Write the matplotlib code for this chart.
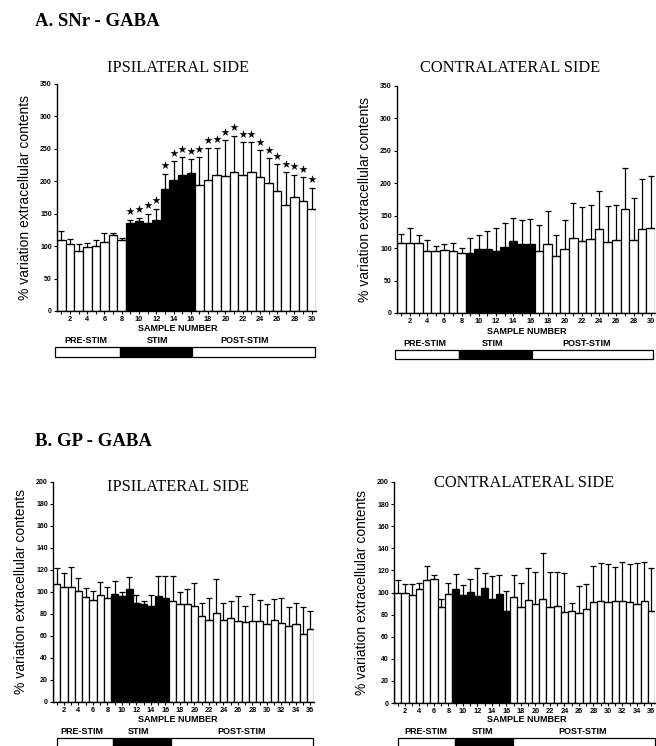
import numpy as np
import matplotlib
matplotlib.use("Agg")
import matplotlib.pyplot as plt
from matplotlib.patches import Rectangle

# ---------------- data ----------------
samples_a = list(range(1, 31))
samples_b = list(range(1, 37))
stim_first, stim_last = 9, 16

snr_ipsi_mean = [110, 104, 92, 99, 100, 106, 117, 109, 136, 139, 135, 141, 188, 202, 209,
                 213, 194, 202, 209, 208, 215, 209, 215, 206, 198, 185, 164, 176, 170, 158]
snr_ipsi_sem = [13, 7, 12, 6, 10, 15, 3, 3, 5, 5, 15, 17, 24, 29, 28,
                21, 43, 49, 43, 55, 55, 51, 45, 42, 38, 41, 50, 34, 36, 32]
snr_ipsi_signif = [0] * 8 + [1] * 22

snr_contra_mean = [108, 108, 108, 96, 96, 97, 95, 92, 93, 98, 98, 95, 102, 111, 106,
                   107, 95, 107, 88, 99, 116, 111, 114, 129, 110, 112, 160, 113, 129, 131]
snr_contra_sem = [14, 23, 13, 16, 8, 9, 13, 8, 23, 23, 28, 36, 36, 36, 38,
                  38, 41, 51, 32, 45, 54, 52, 53, 59, 55, 55, 64, 64, 77, 81]

gp_ipsi_mean = [107, 105, 105, 101, 95.5, 93, 97, 94.5, 98.5, 96, 103, 90, 89.5, 87.5, 96, 95,
                91.5, 89, 89.5, 87, 78, 75, 81, 75, 76, 74, 73, 74, 74, 71, 75, 72, 69, 70.5, 61.5, 66]
gp_ipsi_sem = [14.5, 12, 18, 12, 8.5, 8, 12, 10.5, 11.5, 4, 11, 7, 2.5, 9.5, 18.5, 19.5,
               23, 11, 13.5, 21, 12, 20, 30.5, 15, 16, 22, 14.5, 24.5, 18.7, 18, 19, 23, 17, 19.5, 24.5, 17]

gp_contra_mean = [100, 100, 98, 103, 111, 112.5, 87, 98.6, 103, 98, 100.5, 97, 104, 94, 98.6, 83,
                  95.6, 86.6, 93, 90, 94, 86.6, 88, 82, 83.6, 81.5, 85, 91.4, 92.6, 91, 92, 92.3,
                  91, 90, 92, 83.6]
gp_contra_sem = [11.6, 8, 10, 6, 13, 3.5, 7, 10.4, 14, 9, 11.5, 25.5, 14, 21, 17.4, 18,
                 20.4, 22.4, 29, 28.5, 42, 31.9, 30.5, 36, 6.9, 24.5, 23, 32.6, 34.4, 35, 31, 35.7,
                 35, 37, 35.6, 38.9]

seg_labels = ["PRE-STIM", "STIM", "POST-STIM"]

# ---------------- figure ----------------
W, H = 656, 746
fig = plt.figure(figsize=(W / 100, H / 100), dpi=100)
fig.patch.set_facecolor("white")

SANS = ["Liberation Sans", "DejaVu Sans"]
SERIF = ["Liberation Serif", "DejaVu Serif"]


def px_axes(l, r, top, bottom):
    return fig.add_axes([l / W, 1 - bottom / H, (r - l) / W, (bottom - top) / H])


def ftext(x, y, s, **kw):
    fig.text(x / W, 1 - y / H, s, **kw)


def panel(ax, samples, mean, sem, ymax, ystep, signif=None):
    x = np.array(samples)
    mean = np.array(mean, float)
    sem = np.array(sem, float)
    colors = ["black" if stim_first <= s <= stim_last else "white" for s in samples]
    ax.bar(x, mean, width=1.0, color=colors, edgecolor="black", linewidth=0.9, zorder=2)
    ax.errorbar(x, mean, yerr=[np.zeros_like(sem), sem], fmt="none", ecolor="black",
                elinewidth=0.9, capsize=2.0, capthick=0.9, zorder=3)
    if signif is not None:
        sx = [xi for xi, f in zip(x, signif) if f]
        sy = [m + e + 13 for m, e, f in zip(mean, sem, signif) if f]
        ax.scatter(sx, sy, marker="*", s=38, color="black", linewidths=0, zorder=4, clip_on=False)
    ax.set_xlim(0.5, len(samples) + 0.5)
    ax.set_ylim(0, ymax)
    for sp in ("top", "right"):
        ax.spines[sp].set_visible(False)
    for sp in ("left", "bottom"):
        ax.spines[sp].set_linewidth(1.0)
    ax.set_yticks(np.arange(0, ymax + 1, ystep))
    ax.set_yticklabels([str(v) for v in np.arange(0, ymax + 1, ystep)],
                       fontsize=5.0, fontweight="bold", family=SANS)
    ax.set_xticks(x)
    ax.set_xticklabels([str(s) if s % 2 == 0 else "" for s in samples],
                       fontsize=5.3, fontweight="bold", family=SANS)
    ax.tick_params(axis="both", direction="out", length=2.5, width=0.8, pad=1.2)
    ax.set_ylabel("% variation extracellular contents", fontsize=10, family=SANS, labelpad=6)


def band(l, r, b1, b2, top, bottom):
    segs = [(l, b1, "white"), (b1, b2, "black"), (b2, r, "white")]
    for a, b, c in segs:
        fig.patches.append(Rectangle((a / W, 1 - bottom / H), (b - a) / W, (bottom - top) / H,
                                     transform=fig.transFigure, facecolor=c,
                                     edgecolor="black", linewidth=0.9))


TITLE_FS = 11.8
HEAD_FS = 13.5
SN_FS = 6.5
SEG_FS = 6.5

# ---- Panel A ----
ftext(35, 21, "A. SNr - GABA", fontsize=HEAD_FS, fontweight="bold", family=SERIF, va="center")
ftext(178, 68, "IPSILATERAL SIDE", fontsize=TITLE_FS, family=SERIF, ha="center", va="center")
ftext(510, 68, "CONTRALATERAL SIDE", fontsize=TITLE_FS, family=SERIF, ha="center", va="center")

ax1 = px_axes(57, 316, 84, 311)
panel(ax1, samples_a, snr_ipsi_mean, snr_ipsi_sem, 350, 50, snr_ipsi_signif)
ftext(178, 328, "SAMPLE NUMBER", fontsize=SN_FS, fontweight="bold", family=SANS, ha="center", va="center")
for xx, s in zip([86, 158, 245], seg_labels):
    ftext(xx, 340, s, fontsize=SEG_FS, fontweight="bold", family=SANS, ha="center", va="center")
band(55, 315, 120, 192, 347, 357)

ax2 = px_axes(397, 655, 86, 313)
panel(ax2, samples_a, snr_contra_mean, snr_contra_sem, 350, 50)
ftext(527, 331, "SAMPLE NUMBER", fontsize=SN_FS, fontweight="bold", family=SANS, ha="center", va="center")
for xx, s in zip([425, 493, 587], seg_labels):
    ftext(xx, 343, s, fontsize=SEG_FS, fontweight="bold", family=SANS, ha="center", va="center")
band(395, 653, 459, 532, 350, 359)

# ---- Panel B ----
ftext(35, 442, "B. GP - GABA", fontsize=HEAD_FS, fontweight="bold", family=SERIF, va="center")
ftext(178, 487, "IPSILATERAL SIDE", fontsize=TITLE_FS, family=SERIF, ha="center", va="center")
ftext(524, 483, "CONTRALATERAL SIDE", fontsize=TITLE_FS, family=SERIF, ha="center", va="center")

ax3 = px_axes(53, 314, 482, 702)
panel(ax3, samples_b, gp_ipsi_mean, gp_ipsi_sem, 200, 20)
ftext(178, 720, "SAMPLE NUMBER", fontsize=SN_FS, fontweight="bold", family=SANS, ha="center", va="center")
for xx, s in zip([82, 139, 242], seg_labels):
    ftext(xx, 732, s, fontsize=SEG_FS, fontweight="bold", family=SANS, ha="center", va="center")
band(57, 313, 113, 171, 738, 752)

ax4 = px_axes(394, 655, 482, 703)
panel(ax4, samples_b, gp_contra_mean, gp_contra_sem, 200, 20)
ftext(527, 720, "SAMPLE NUMBER", fontsize=SN_FS, fontweight="bold", family=SANS, ha="center", va="center")
for xx, s in zip([426, 483, 583], seg_labels):
    ftext(xx, 732, s, fontsize=SEG_FS, fontweight="bold", family=SANS, ha="center", va="center")
band(398, 655, 455, 513, 738, 752)

fig.savefig("out.png", dpi=100, facecolor="white")
